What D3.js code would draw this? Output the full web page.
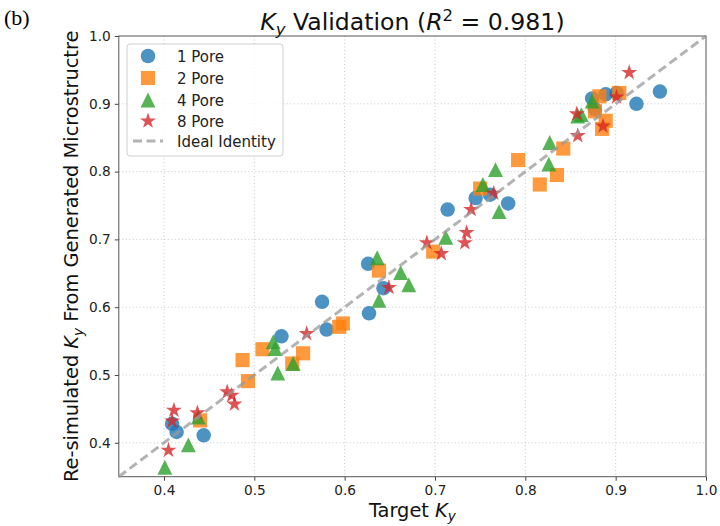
<!DOCTYPE html>
<html>
<head>
<meta charset="utf-8">
<script src="https://cdn.jsdelivr.net/npm/d3@7"></script>
<style>
  body { margin: 0; background: #fff; }
  svg { display: block; }
</style>
</head>
<body>
<div id="chart"></div>
<script>
// Values: target Ky (x) vs re-simulated Ky (y)
var pore1_x = [0.409, 0.414, 0.444, 0.530, 0.575, 0.580, 0.626, 0.627, 0.643, 0.714, 0.745, 0.761, 0.781, 0.874, 0.877, 0.889, 0.901, 0.923, 0.949];
var pore1_y = [0.428, 0.416, 0.411, 0.557, 0.608, 0.567, 0.664, 0.591, 0.628, 0.744, 0.761, 0.766, 0.753, 0.908, 0.892, 0.914, 0.916, 0.900, 0.918];

var pore2_x = [0.440, 0.487, 0.493, 0.509, 0.542, 0.554, 0.594, 0.598, 0.638, 0.698, 0.750, 0.792, 0.816, 0.835, 0.842, 0.877, 0.882, 0.885, 0.889, 0.904];
var pore2_y = [0.433, 0.522, 0.491, 0.538, 0.517, 0.532, 0.571, 0.576, 0.654, 0.682, 0.775, 0.817, 0.781, 0.795, 0.834, 0.889, 0.911, 0.863, 0.875, 0.916];

var pore4_x = [0.401, 0.427, 0.438, 0.521, 0.523, 0.526, 0.543, 0.636, 0.638, 0.662, 0.671, 0.712, 0.753, 0.767, 0.771, 0.826, 0.827, 0.858, 0.862, 0.874];
var pore4_y = [0.364, 0.397, 0.438, 0.549, 0.539, 0.503, 0.517, 0.673, 0.610, 0.651, 0.633, 0.703, 0.781, 0.803, 0.741, 0.811, 0.843, 0.882, 0.884, 0.904];

var pore8_x = [0.405, 0.409, 0.411, 0.437, 0.470, 0.475, 0.478, 0.558, 0.649, 0.691, 0.707, 0.733, 0.735, 0.740, 0.765, 0.857, 0.858, 0.886, 0.901, 0.915];
var pore8_y = [0.389, 0.432, 0.448, 0.444, 0.475, 0.470, 0.457, 0.561, 0.629, 0.695, 0.679, 0.695, 0.710, 0.744, 0.768, 0.885, 0.853, 0.867, 0.910, 0.946];

var series_names = ["1 Pore", "2 Pore", "4 Pore", "8 Pore"];
var ticks = [0.4, 0.5, 0.6, 0.7, 0.8, 0.9, 1.0];
var identity = [0.35, 1.0];

var WIDTH = 720, HEIGHT = 526;
var LEFT = 118.8, RIGHT = 706, TOP = 36, BOTTOM = 476.7;
var MARK = 14.5;   // marker size in px (circle diameter / square side / triangle width)
var FONT = "'DejaVu Sans', sans-serif";

// matplotlib style '^' : as wide as tall
var symbolMplTriangle = {
  draw: function (ctx, size) {
    var h = Math.sqrt(size) / 2;
    ctx.moveTo(0, -h);
    ctx.lineTo(h, h);
    ctx.lineTo(-h, h);
    ctx.closePath();
  }
};

var starR = MARK * 0.58;
var series = [
  {name: series_names[0], xs: pore1_x, ys: pore1_y, color: "#1f77b4", shape: d3.symbolCircle,   size: Math.PI * MARK * MARK / 4},
  {name: series_names[1], xs: pore2_x, ys: pore2_y, color: "#ff7f0e", shape: d3.symbolSquare,   size: MARK * MARK * 0.95},
  {name: series_names[2], xs: pore4_x, ys: pore4_y, color: "#2ca02c", shape: symbolMplTriangle, size: MARK * MARK * 1.05},
  {name: series_names[3], xs: pore8_x, ys: pore8_y, color: "#d62728", shape: d3.symbolStar,     size: starR * starR / 0.8908}
];

var svg = d3.select("#chart").append("svg")
  .attr("width", WIDTH)
  .attr("height", HEIGHT);

var xscale = d3.scaleLinear().domain([0.35, 1.0]).range([LEFT, RIGHT]);
var yscale = d3.scaleLinear().domain([0.35, 1.0]).range([BOTTOM, TOP]);

// dotted grid
var grid = svg.append("g")
  .attr("stroke", "#c8c8c8")
  .attr("stroke-width", 1)
  .attr("stroke-dasharray", "1,2.5");

grid.selectAll(".gx").data(ticks.slice(0, -1)).enter().append("line")
  .attr("x1", d => xscale(d)).attr("x2", d => xscale(d))
  .attr("y1", TOP).attr("y2", BOTTOM);

grid.selectAll(".gy").data(ticks.slice(0, -1)).enter().append("line")
  .attr("y1", d => yscale(d)).attr("y2", d => yscale(d))
  .attr("x1", LEFT).attr("x2", RIGHT);

// axes
var x_axis = d3.axisBottom(xscale).tickValues(ticks).tickFormat(d3.format(".1f")).tickSize(4).tickPadding(5);
var y_axis = d3.axisLeft(yscale).tickValues(ticks).tickFormat(d3.format(".1f")).tickSize(4).tickPadding(4);

svg.append("g").attr("transform", "translate(0," + BOTTOM + ")").call(x_axis);
svg.append("g").attr("transform", "translate(" + LEFT + ",0)").call(y_axis);

svg.selectAll(".tick text")
  .attr("font-family", FONT)
  .attr("font-size", 13.7)
  .attr("fill", "#222");
svg.selectAll(".tick line").attr("stroke", "#444");
svg.selectAll(".domain").remove();

// frame
svg.append("rect")
  .attr("x", LEFT).attr("y", TOP)
  .attr("width", RIGHT - LEFT).attr("height", BOTTOM - TOP)
  .attr("fill", "none")
  .attr("stroke", "#555")
  .attr("stroke-width", 1);

// scatter points
var plot = svg.append("g");
series.forEach(function (s) {
  var sym = d3.symbol().type(s.shape).size(s.size);
  plot.append("g").selectAll("path")
    .data(s.xs.map((x, i) => [x, s.ys[i]]))
    .enter().append("path")
    .attr("d", sym)
    .attr("transform", d => "translate(" + xscale(d[0]) + "," + yscale(d[1]) + ")")
    .attr("fill", s.color)
    .attr("fill-opacity", 0.8);
});

// ideal identity line
plot.append("line")
  .attr("x1", xscale(identity[0])).attr("y1", yscale(identity[0]))
  .attr("x2", xscale(identity[1])).attr("y2", yscale(identity[1]))
  .attr("stroke", "#999")
  .attr("stroke-opacity", 0.75)
  .attr("stroke-width", 3)
  .attr("stroke-dasharray", "9,4.5");

// legend
var legend = svg.append("g");
legend.append("rect")
  .attr("x", 127).attr("y", 44)
  .attr("width", 156).attr("height", 112)
  .attr("rx", 3)
  .attr("fill", "#fff").attr("fill-opacity", 0.8)
  .attr("stroke", "#d0d0d0");

var rows = [56, 78, 100, 121, 141];
series.forEach(function (s, i) {
  legend.append("path")
    .attr("d", d3.symbol().type(s.shape).size(s.size)())
    .attr("transform", "translate(148," + rows[i] + ")")
    .attr("fill", s.color).attr("fill-opacity", 0.8);
  legend.append("text")
    .attr("x", 177).attr("y", rows[i] + 5.5)
    .attr("font-family", FONT).attr("font-size", 15)
    .attr("fill", "#222")
    .text(s.name);
});
legend.append("line")
  .attr("x1", 133).attr("x2", 163)
  .attr("y1", rows[4]).attr("y2", rows[4])
  .attr("stroke", "#999").attr("stroke-opacity", 0.75)
  .attr("stroke-width", 3).attr("stroke-dasharray", "9,4.5");
legend.append("text")
  .attr("x", 177).attr("y", rows[4] + 5.5)
  .attr("font-family", FONT).attr("font-size", 15)
  .attr("fill", "#222")
  .text("Ideal Identity");

// title
var title = svg.append("text")
  .attr("x", (LEFT + RIGHT) / 2).attr("y", 30)
  .attr("text-anchor", "middle")
  .attr("font-family", FONT).attr("font-size", 23.6)
  .attr("fill", "#111");
title.append("tspan").attr("font-style", "italic").text("K");
title.append("tspan").attr("font-style", "italic").attr("font-size", 16.5).attr("dy", 5).text("y");
title.append("tspan").attr("dy", -5).text(" Validation (");
title.append("tspan").attr("font-style", "italic").text("R");
title.append("tspan").attr("font-size", 16.5).attr("dy", -9).text("2");
title.append("tspan").attr("dy", 9).text(" = 0.981)");

// x label
var xlab = svg.append("text")
  .attr("x", (LEFT + RIGHT) / 2).attr("y", 516.5)
  .attr("text-anchor", "middle")
  .attr("font-family", FONT).attr("font-size", 19.4)
  .attr("fill", "#111");
xlab.append("tspan").text("Target ");
xlab.append("tspan").attr("font-style", "italic").text("K");
xlab.append("tspan").attr("font-style", "italic").attr("font-size", 13.6).attr("dy", 4.5).text("y");

// y label
var ylab = svg.append("text")
  .attr("transform", "translate(78," + (TOP + BOTTOM) / 2 + ") rotate(-90)")
  .attr("text-anchor", "middle")
  .attr("font-family", FONT).attr("font-size", 19.4)
  .attr("fill", "#111");
ylab.append("tspan").text("Re-simulated ");
ylab.append("tspan").attr("font-style", "italic").text("K");
ylab.append("tspan").attr("font-style", "italic").attr("font-size", 13.6).attr("dy", 4.5).text("y");
ylab.append("tspan").attr("dy", -4.5).text(" From Generated Microstructre");

// panel tag
svg.append("text")
  .attr("x", 4).attr("y", 25)
  .attr("font-family", "'Liberation Serif', 'Times New Roman', serif")
  .attr("font-size", 22)
  .attr("fill", "#000")
  .text("(b)");
</script>
</body>
</html>
